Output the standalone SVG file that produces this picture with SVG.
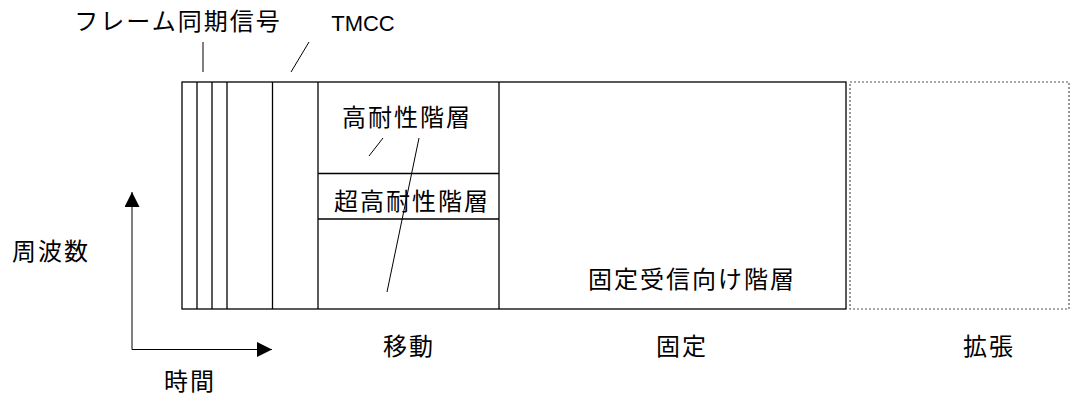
<svg xmlns="http://www.w3.org/2000/svg" width="1070" height="396" viewBox="0 0 1070 396">
<style>
.t{font-family:"Noto Sans CJK JP","Noto Sans CJK SC",sans-serif;font-size:24px;letter-spacing:2px;fill:#000;text-anchor:middle}
.l{font-family:"Liberation Sans",Arial,sans-serif;font-size:22px;fill:#000;text-anchor:middle}
.s{stroke:#000;stroke-width:1.3;fill:none}
.th{stroke:#000;stroke-width:1;fill:none}
</style>
<defs>
<marker id="ah" viewBox="0 0 15 15" refX="15" refY="7.5" markerWidth="15" markerHeight="15" markerUnits="userSpaceOnUse" orient="auto">
<path d="M0,0 L15,7.5 L0,15 Z" fill="#000"/>
</marker>
</defs>
<rect width="1070" height="396" fill="#fff"/>
<g id="frame">
<rect class="s" x="182" y="82" width="664" height="227"/>
<line class="s" x1="197" y1="82" x2="197" y2="309"/>
<line class="s" x1="212" y1="82" x2="212" y2="309"/>
<line class="s" x1="227" y1="82" x2="227" y2="309"/>
<line class="s" x1="272.5" y1="82" x2="272.5" y2="309"/>
<line class="s" x1="318" y1="82" x2="318" y2="309"/>
<line class="s" x1="499" y1="82" x2="499" y2="309"/>
</g>
<g id="mobile">
<line class="s" x1="318" y1="173.5" x2="499" y2="173.5"/>
<line class="s" x1="318" y1="219" x2="499" y2="219"/>
<text class="t" x="407" y="125.5">高耐性階層</text>
<text class="t" x="412" y="210">超高耐性階層</text>
</g>
<g id="fixed">
<text class="t" x="692" y="288">固定受信向け階層</text>
</g>
<g id="extension">
<rect x="850" y="82" width="219" height="227" fill="none" stroke="#555" stroke-width="1.2" stroke-dasharray="2,2"/>
</g>
<g id="connectors">
<line class="th" x1="203" y1="42" x2="203" y2="72"/>
<line class="th" x1="309" y1="42" x2="291" y2="72"/>
<line class="th" x1="383" y1="138" x2="369" y2="156"/>
<line class="th" x1="419" y1="138" x2="387" y2="292"/>
<line class="th" x1="132" y1="349.5" x2="132" y2="192" marker-end="url(#ah)"/>
<line class="th" x1="132" y1="349.5" x2="272" y2="349.5" marker-end="url(#ah)"/>
</g>
<g id="labels">
<text class="t" x="178" y="30">フレーム同期信号</text>
<text class="l" x="363" y="31">TMCC</text>
<text class="t" x="51" y="260">周波数</text>
<text class="t" x="190" y="390">時間</text>
<text class="t" x="409" y="355">移動</text>
<text class="t" x="682" y="355">固定</text>
<text class="t" x="989" y="355">拡張</text>
</g>
</svg>
